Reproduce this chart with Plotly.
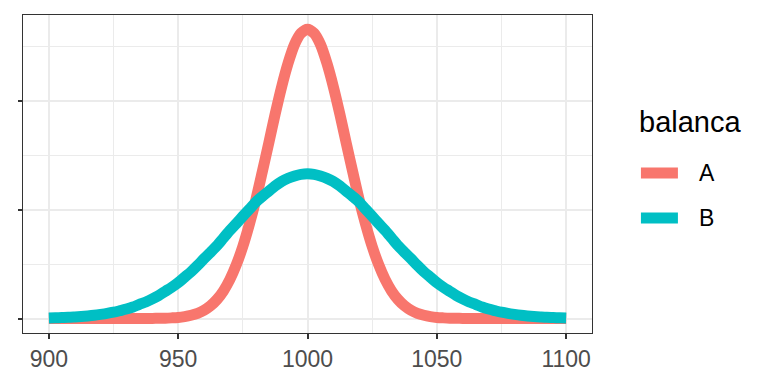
import plotly.graph_objects as go

x_vals = [900 + 2.5 * i for i in range(81)]
half_a = [0.0266, 0.02623, 0.0252, 0.02347, 0.0213, 0.01880, 0.0161, 0.01347, 0.0109, 0.00864,
          0.00663, 0.00496, 0.0036, 0.00254, 0.00175, 0.00117, 0.00076, 0.00048, 0.0003, 0.00018,
          0.0001, 0.00006, 0.00003, 0.00002, 0.00001, 0.0, 0.0, 0.0, 0.0, 0.0,
          0.0, 0.0, 0.0, 0.0, 0.0, 0.0, 0.0, 0.0, 0.0, 0.0, 0.0]
half_b = [0.0133, 0.01325, 0.0131, 0.01289, 0.0126, 0.01219, 0.0117, 0.01122, 0.0107, 0.01004,
          0.0094, 0.00874, 0.0081, 0.00740, 0.0067, 0.00609, 0.0055, 0.00488, 0.0043, 0.00380,
          0.0033, 0.00288, 0.0025, 0.00212, 0.0018, 0.00152, 0.0013, 0.00106, 0.00087, 0.00072,
          0.00058, 0.00047, 0.00038, 0.00030, 0.00024, 0.00019, 0.00015, 0.00011, 0.00009, 0.00007,
          0.00005]
dens_a = half_a[::-1] + half_a[1:]
dens_b = half_b[::-1] + half_b[1:]
group_names = ["A", "B"]
group_colors = ["#F8766D", "#00BFC4"]
legend_title = "balanca"
x_ticks = [900, 950, 1000, 1050, 1100]
y_ticks = [0.0, 0.01, 0.02]

fig = go.Figure()
for name, ys, col in zip(group_names, [dens_a, dens_b], group_colors):
    fig.add_trace(go.Scatter(x=x_vals, y=ys, mode="lines", name=name, showlegend=False,
                             line=dict(color=col, width=11, shape="spline", smoothing=0.8)))

font = "Liberation Sans, Arial, sans-serif"

# manual legend (ggplot-style), positioned in paper coordinates relative to the panel
key_x0, key_x1, label_x = 1.086, 1.151, 1.1845
entry_y = [0.5031, 0.3616]
fig.add_annotation(x=1.0791, y=0.6635, xref="paper", yref="paper", text=legend_title,
                   showarrow=False, xanchor="left", yanchor="middle",
                   font=dict(size=29, color="black", family=font))
for name, col, yy in zip(group_names, group_colors, entry_y):
    fig.add_shape(type="line", xref="paper", yref="paper", x0=key_x0, x1=key_x1, y0=yy, y1=yy,
                  line=dict(color=col, width=11))
    fig.add_annotation(x=label_x, y=yy, xref="paper", yref="paper", text=name, showarrow=False,
                       xanchor="left", yanchor="middle",
                       font=dict(size=23, color="black", family=font))

fig.update_layout(
    width=760, height=376,
    margin=dict(l=15, r=176, t=7, b=51),
    plot_bgcolor="white", paper_bgcolor="white",
    font=dict(family=font, size=23, color="black"),
    showlegend=False,
    xaxis=dict(range=[890, 1110], tickvals=x_ticks, ticktext=[str(v) for v in x_ticks],
               automargin=False,
               showgrid=True, gridcolor="#EBEBEB", gridwidth=1.6, zeroline=False,
               ticks="outside", ticklen=5, tickwidth=1.6, tickcolor="#333333",
               tickfont=dict(size=23, color="#4D4D4D"),
               showline=True, linecolor="#333333", linewidth=1.2, mirror=True,
               minor=dict(tickvals=[925, 975, 1025, 1075], showgrid=True, gridcolor="#EBEBEB",
                          gridwidth=0.8, ticks="")),
    yaxis=dict(range=[-0.00133, 0.0279], tickvals=y_ticks, ticktext=["", "", ""],
               automargin=False,
               showgrid=True, gridcolor="#EBEBEB", gridwidth=1.6, zeroline=False,
               ticks="outside", ticklen=4, tickwidth=1.6, tickcolor="#333333",
               showline=True, linecolor="#333333", linewidth=1.2, mirror=True,
               minor=dict(tickvals=[0.005, 0.015, 0.025], showgrid=True, gridcolor="#EBEBEB",
                          gridwidth=0.8, ticks="")),
)
fig.write_html("out.html")
